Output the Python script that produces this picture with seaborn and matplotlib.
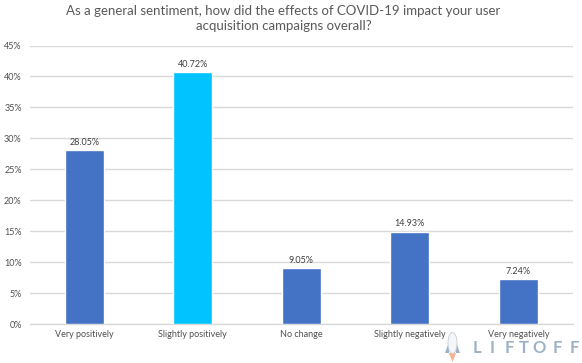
import matplotlib
matplotlib.use("Agg")
import matplotlib.pyplot as plt
from matplotlib.patches import Ellipse, Polygon
import pandas as pd
import seaborn as sns

categories = ["Very positively", "Slightly positively", "No change", "Slightly negatively", "Very negatively"]
shares = [28.05, 40.72, 9.05, 14.93, 7.24]
bar_colors = ["#4472C4", "#00C3FF", "#4472C4", "#4472C4", "#4472C4"]
y_ticks = [0, 5, 10, 15, 20, 25, 30, 35, 40, 45]
title = "As a general sentiment, how did the effects of COVID-19 impact your user\nacquisition campaigns overall?"
logo_letters = ["L", "I", "F", "T", "O", "F", "F"]
logo_x = [477, 492, 509, 524, 539, 557, 574]

W, H = 582, 363

sns.set_theme(style="whitegrid")
plt.rcParams["font.family"] = ["Lato", "DejaVu Sans"]

df = pd.DataFrame({"Answer": categories, "Share": shares})

fig = plt.figure(figsize=(W / 100, H / 100), dpi=100)
ax = fig.add_axes([30 / W, 1 - 324 / H, 542.5 / W, 278.5 / H])

sns.barplot(data=df, x="Answer", y="Share", hue="Answer", palette=bar_colors,
            dodge=False, legend=False, width=0.36, saturation=1, ax=ax, zorder=3)

ax.set_ylim(0, 45)
ax.set_xlim(-0.5, 4.5)
ax.set_yticks(y_ticks)
ax.set_yticklabels([f"{t}%" for t in y_ticks])
ax.set_xlabel("")
ax.set_ylabel("")
ax.grid(axis="x", visible=False)
ax.grid(axis="y", color="#D9D9D9", linewidth=1)
ax.set_axisbelow(True)
sns.despine(ax=ax, left=True, top=True, right=True)
ax.spines["bottom"].set_color("#D9D9D9")
ax.spines["bottom"].set_linewidth(1)
ax.tick_params(axis="both", length=0, labelsize=6.5, labelcolor="#505050")
ax.tick_params(axis="x", pad=4)
ax.tick_params(axis="y", pad=6)

for container in ax.containers:
    ax.bar_label(container, fmt="%.2f%%", padding=2.5, fontsize=6.5, color="#404040")

fig.text(283.5 / W, 1 - 5 / H, title, ha="center", va="top",
         fontsize=9.5, color="#595959", linespacing=1.3)

# logo, bottom right corner
for x, letter in zip(logo_x, logo_letters):
    fig.text(x / W, 1 - 353 / H, letter, ha="center", va="baseline",
             fontsize=12, fontweight="bold", color="#9DB2C6")


def px(points):
    return [(x / W, 1 - y / H) for x, y in points]


fig.add_artist(Polygon(px([(449, 353), (456, 353), (452.5, 362)]), closed=True,
                       transform=fig.transFigure, color="#F3B391", lw=0))
fig.add_artist(Polygon(px([(449, 342), (449, 353), (445, 353)]), closed=True,
                       transform=fig.transFigure, color="#9DB2C6", lw=0))
fig.add_artist(Polygon(px([(456, 342), (456, 353), (460, 353)]), closed=True,
                       transform=fig.transFigure, color="#9DB2C6", lw=0))
fig.add_artist(Ellipse((452.5 / W, 1 - 343 / H), 9 / W, 21 / H, transform=fig.transFigure,
                       facecolor="#F4F6F8", edgecolor="#C5CFD8", lw=0.6))

fig.savefig("out.png", dpi=100)
